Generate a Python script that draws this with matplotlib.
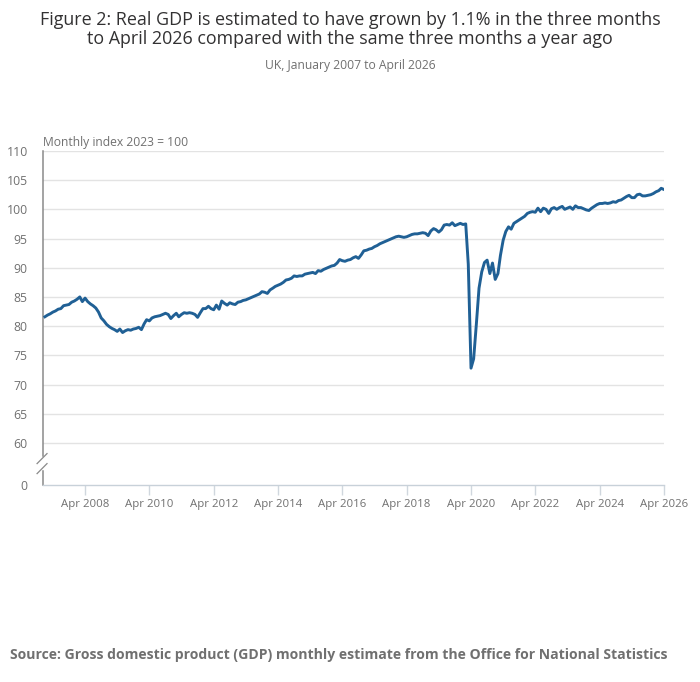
import numpy as np
import pandas as pd
import matplotlib
matplotlib.use("Agg")
import matplotlib.pyplot as plt
import matplotlib.dates as mdates

plt.rcParams['font.family'] = ['Open Sans', 'DejaVu Sans']

# monthly GDP index, 2023 = 100, Jan 2007 .. Apr 2026
gdp_2007 = [81.6, 81.9, 82.1, 82.4, 82.6, 82.9, 83.0, 83.5, 83.6, 83.7, 84.1, 84.3]
gdp_2008 = [84.6, 85.0, 84.2, 84.8, 84.2, 83.8, 83.5, 83.1, 82.4, 81.4, 80.9, 80.3]
gdp_2009 = [79.9, 79.6, 79.4, 79.1, 79.5, 78.9, 79.2, 79.4, 79.3, 79.5, 79.6, 79.8]
gdp_2010 = [79.4, 80.4, 81.1, 80.9, 81.4, 81.6, 81.7, 81.8, 82.0, 82.2, 82.0, 81.3]
gdp_2011 = [81.8, 82.2, 81.6, 82.0, 82.3, 82.2, 82.3, 82.2, 82.0, 81.5, 82.3, 83.0]
gdp_2012 = [83.0, 83.4, 83.0, 82.8, 83.6, 82.9, 84.3, 83.9, 83.6, 84.0, 83.8, 83.7]
gdp_2013 = [84.1, 84.2, 84.4, 84.5, 84.7, 84.9, 85.1, 85.3, 85.5, 85.9, 85.8, 85.6]
gdp_2014 = [86.2, 86.5, 86.8, 87.0, 87.2, 87.5, 87.9, 88.0, 88.2, 88.6, 88.5, 88.6]
gdp_2015 = [88.6, 88.9, 89.0, 89.1, 89.2, 89.0, 89.5, 89.4, 89.7, 89.9, 90.1, 90.3]
gdp_2016 = [90.4, 90.8, 91.4, 91.2, 91.1, 91.3, 91.4, 91.7, 91.9, 91.6, 92.2, 92.9]
gdp_2017 = [93.0, 93.2, 93.3, 93.6, 93.8, 94.1, 94.3, 94.5, 94.7, 94.9, 95.1, 95.3]
gdp_2018 = [95.4, 95.3, 95.2, 95.3, 95.5, 95.7, 95.8, 95.8, 95.9, 96.0, 95.9, 95.5]
gdp_2019 = [96.3, 96.7, 96.5, 96.1, 96.5, 97.3, 97.4, 97.3, 97.7, 97.2, 97.4, 97.6]
gdp_2020 = [97.4, 97.5, 90.6, 72.8, 74.4, 80.4, 86.5, 89.3, 90.9, 91.3, 89.0, 90.8]
gdp_2021 = [88.0, 89.0, 92.1, 94.7, 96.2, 97.0, 96.6, 97.6, 97.9, 98.2, 98.5, 98.8]
gdp_2022 = [99.3, 99.5, 99.6, 99.5, 100.2, 99.6, 100.2, 100.0, 99.3, 100.1, 100.3, 100.0]
gdp_2023 = [100.3, 100.5, 100.0, 100.2, 100.4, 100.0, 100.6, 100.3, 100.3, 100.1, 99.9, 99.8]
gdp_2024 = [100.2, 100.5, 100.8, 101.0, 101.0, 101.1, 101.0, 101.1, 101.3, 101.2, 101.5, 101.6]
gdp_2025 = [101.9, 102.2, 102.4, 102.0, 102.0, 102.5, 102.6, 102.3, 102.3, 102.4, 102.5, 102.7]
gdp_2026 = [103.0, 103.2, 103.6, 103.4]

gdp = (gdp_2007 + gdp_2008 + gdp_2009 + gdp_2010 + gdp_2011 + gdp_2012
       + gdp_2013 + gdp_2014 + gdp_2015 + gdp_2016 + gdp_2017 + gdp_2018
       + gdp_2019 + gdp_2020 + gdp_2021 + gdp_2022 + gdp_2023 + gdp_2024
       + gdp_2025 + gdp_2026)
months = pd.date_range('2007-01-01', periods=len(gdp), freq='MS')

y_ticks = [60, 65, 70, 75, 80, 85, 90, 95, 100, 105, 110]
y_floor = 52.8          # broken axis: bottom of plot is labelled 0
x_ticks = pd.date_range('2008-04-01', '2026-04-01', freq='24MS')

TXT = '#707070'
DARK = '#323132'
BLUE = '#206095'
AXIS = '#8a8a8a'

fig = plt.figure(figsize=(7.0, 6.82), dpi=100)
ax = fig.add_axes([0.0614, 0.2889, 0.8872, 0.4898])

ax.plot(months, gdp, color=BLUE, lw=2.1, solid_joinstyle='round', zorder=3)

ax.set_ylim(y_floor, 110)
ax.set_xlim(mdates.date2num(pd.Timestamp('2006-12-10')),
            mdates.date2num(pd.Timestamp('2026-04-02')))

ax.set_yticks([y_floor] + y_ticks)
ax.set_yticklabels(['0'] + [str(v) for v in y_ticks])
ax.set_xticks(x_ticks)
ax.xaxis.set_major_formatter(mdates.DateFormatter('%b %Y'))

ax.grid(axis='y', color='#e3e3e3', lw=1.0, zorder=0)
ax.yaxis.get_gridlines()[0].set_visible(False)
ax.tick_params(axis='y', length=0, pad=11, labelsize=8.8, labelcolor=TXT)
ax.tick_params(axis='x', length=7, width=1, color='#d0d7de', pad=3,
               labelsize=8.2, labelcolor=TXT)

for s in ('top', 'right', 'left'):
    ax.spines[s].set_visible(False)
ax.spines['bottom'].set_color('#c8d1d9')
ax.spines['bottom'].set_linewidth(1.0)

# left axis line drawn in two pieces with a break between 0 and 60
t = ax.transAxes
ax.plot([0, 0], [0, 0.042], transform=t, color=AXIS, lw=1.1, clip_on=False)
ax.plot([0, 0], [0.088, 1.0], transform=t, color=AXIS, lw=1.1, clip_on=False)
ax.plot([-0.0095, 0.0065], [0.034, 0.064], transform=t, color=AXIS, lw=0.9,
        clip_on=False)
ax.plot([-0.0095, 0.0065], [0.064, 0.094], transform=t, color=AXIS, lw=0.9,
        clip_on=False)

ax.text(0.0, 1.006, 'Monthly index 2023 = 100', transform=t, ha='left',
        va='bottom', fontsize=8.7, color=TXT)

fig.text(0.5, 0.984, 'Figure 2: Real GDP is estimated to have grown by 1.1% in the three months\n'
         'to April 2026 compared with the same three months a year ago',
         ha='center', va='top', fontsize=12.9, color=DARK, linespacing=1.1)
fig.text(0.5, 0.914, 'UK, January 2007 to April 2026', ha='center', va='top',
         fontsize=8.7, color=TXT)
fig.text(0.014, 0.04, 'Source: Gross domestic product (GDP) monthly estimate from the '
         'Office for National Statistics', ha='left', va='center',
         fontsize=10.05, fontweight='bold', color=TXT)

fig.savefig('out.png', dpi=100, facecolor='white')
